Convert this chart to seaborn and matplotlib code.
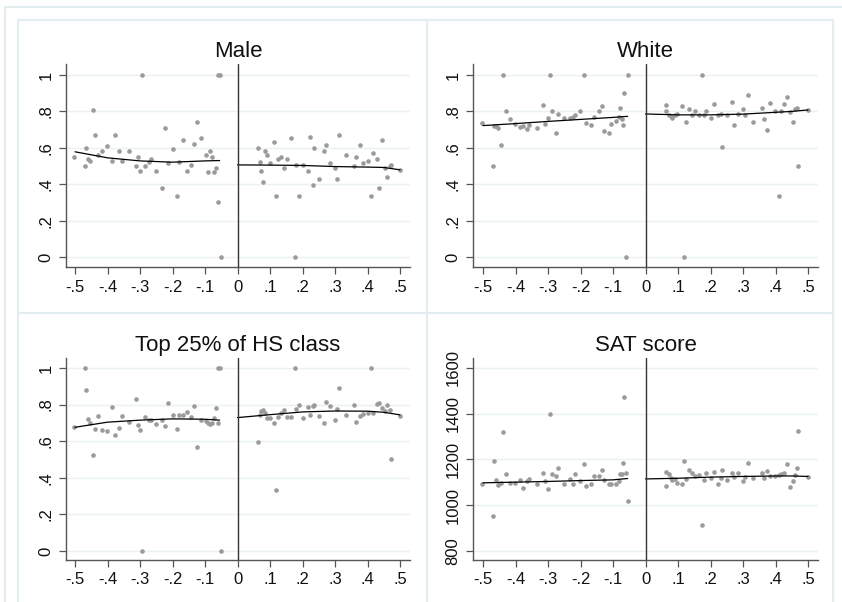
import matplotlib
matplotlib.use("Agg")
import matplotlib.pyplot as plt
from matplotlib.lines import Line2D
import seaborn as sns
import pandas as pd

# ---------------- data ----------------
x_left_a = [-0.503, -0.469, -0.466, -0.461, -0.454, -0.446, -0.438, -0.430, -0.417, -0.402,
            -0.385, -0.377, -0.365, -0.356, -0.335, -0.313, -0.307, -0.300, -0.294, -0.286,
            -0.273, -0.266, -0.250, -0.231, -0.222, -0.215, -0.200, -0.187, -0.181, -0.169,
            -0.155, -0.143, -0.134, -0.124, -0.112, -0.098, -0.091, -0.084, -0.077, -0.071,
            -0.067, -0.061, -0.059, -0.054, -0.052]
x_right_a = [0.062, 0.068, 0.071, 0.078, 0.085, 0.090, 0.100, 0.112, 0.118, 0.125,
             0.135, 0.144, 0.153, 0.166, 0.178, 0.181, 0.188, 0.200, 0.217, 0.222,
             0.231, 0.234, 0.251, 0.265, 0.271, 0.285, 0.300, 0.307, 0.313, 0.333,
             0.357, 0.364, 0.376, 0.386, 0.400, 0.411, 0.418, 0.429, 0.435, 0.446,
             0.454, 0.460, 0.468, 0.471, 0.499]
x_left_b = [-0.502, -0.470, -0.466, -0.460, -0.453, -0.445, -0.439, -0.428, -0.417, -0.401,
            -0.385, -0.378, -0.364, -0.357, -0.335, -0.314, -0.309, -0.300, -0.294, -0.287,
            -0.275, -0.269, -0.250, -0.232, -0.224, -0.217, -0.201, -0.188, -0.183, -0.169,
            -0.157, -0.143, -0.133, -0.128, -0.111, -0.105, -0.092, -0.083, -0.077, -0.071,
            -0.068, -0.065, -0.060, -0.054]
x_right_b = [0.0625, 0.0645, 0.071, 0.078, 0.083, 0.090, 0.098, 0.112, 0.119, 0.124,
             0.134, 0.143, 0.153, 0.165, 0.175, 0.181, 0.186, 0.201, 0.212, 0.222,
             0.231, 0.235, 0.250, 0.265, 0.273, 0.285, 0.300, 0.307, 0.314, 0.332,
             0.357, 0.364, 0.373, 0.382, 0.399, 0.410, 0.416, 0.426, 0.436, 0.446,
             0.455, 0.461, 0.467, 0.470, 0.500]

male_left = [0.55, 0.50, 0.60, 0.536, 0.53, 0.81, 0.67, 0.563, 0.58, 0.609,
             0.53, 0.67, 0.58, 0.53, 0.58, 0.50, 0.55, 0.47, 1.0, 0.50,
             0.52, 0.536, 0.47, 0.38, 0.71, 0.514, 0.596, 0.333, 0.523, 0.642,
             0.47, 0.506, 0.62, 0.742, 0.653, 0.563, 0.468, 0.585, 0.547, 0.468,
             0.49, 0.30, 1.0, 1.0, 0.0]
male_right = [0.601, 0.523, 0.47, 0.411, 0.585, 0.563, 0.514, 0.631, 0.333, 0.539,
              0.552, 0.49, 0.536, 0.653, 0.0, 0.506, 0.333, 0.506, 0.47, 0.658,
              0.395, 0.601, 0.428, 0.585, 0.614, 0.517, 0.49, 0.428, 0.669, 0.558,
              0.50, 0.547, 0.614, 0.514, 0.53, 0.333, 0.569, 0.539, 0.377, 0.642,
              0.49, 0.439, 0.50, 0.506, 0.479]
top_left = [0.676, 1.0, 0.878, 0.722, 0.698, 0.525, 0.665, 0.738, 0.66, 0.655,
            0.789, 0.636, 0.671, 0.738, 0.705, 0.833, 0.687, 0.66, 0.0, 0.733,
            0.716, 0.716, 0.693, 0.716, 0.682, 0.811, 0.744, 0.665, 0.744, 0.744,
            0.76, 0.733, 0.795, 0.571, 0.716, 0.711, 0.698, 0.693, 0.698, 0.727,
            0.784, 0.698, 1.0, 1.0, 0.0]
top_right = [0.598, 0.744, 0.765, 0.771, 0.755, 0.727, 0.727, 0.698, 0.336, 0.733,
             0.755, 0.771, 0.733, 0.733, 1.0, 0.778, 0.80, 0.727, 0.789, 0.744,
             0.795, 0.80, 0.738, 0.698, 0.816, 0.795, 0.716, 0.778, 0.889, 0.744,
             0.80, 0.705, 0.738, 0.749, 0.755, 1.0, 0.755, 0.805, 0.811, 0.784,
             0.765, 0.80, 0.771, 0.504, 0.738]
white_left = [0.737, 0.50, 0.72, 0.72, 0.71, 0.614, 1.0, 0.80, 0.76, 0.73,
              0.715, 0.72, 0.706, 0.726, 0.709, 0.834, 0.731, 0.766, 1.0, 0.80,
              0.682, 0.788, 0.766, 0.766, 0.771, 0.779, 0.80, 1.0, 0.737, 0.726,
              0.771, 0.80, 0.828, 0.693, 0.682, 0.731, 0.748, 0.77, 0.817, 0.757,
              0.726, 0.90, 0.0, 1.0]
white_right = [0.80, 0.834, 0.779, 0.775, 0.766, 0.779, 0.788, 0.828, 0.0, 0.744,
               0.812, 0.779, 0.80, 0.779, 1.0, 0.779, 0.80, 0.766, 0.841, 0.779,
               0.788, 0.603, 0.779, 0.85, 0.726, 0.788, 0.812, 0.779, 0.89, 0.744,
               0.817, 0.76, 0.698, 0.845, 0.80, 0.335, 0.80, 0.841, 0.88, 0.796,
               0.744, 0.812, 0.817, 0.50, 0.808]
sat_left = [1093, 953, 1194, 1110, 1089, 1099, 1321, 1137, 1099, 1099,
            1110, 1074, 1105, 1114, 1095, 1142, 1105, 1069, 1401, 1137,
            1128, 1165, 1095, 1114, 1095, 1137, 1105, 1182, 1086, 1095,
            1128, 1128, 1155, 1110, 1095, 1091, 1095, 1104, 1137, 1137,
            1185, 1472, 1142, 1020]
sat_right = [1083, 1146, 1136, 1118, 1110, 1114, 1099, 1095, 1194, 1114,
             1155, 1142, 1128, 1133, 912, 1110, 1142, 1118, 1146, 1095,
             1118, 1155, 1110, 1142, 1124, 1142, 1105, 1124, 1185, 1118,
             1142, 1118, 1150, 1128, 1128, 1133, 1137, 1142, 1182, 1079,
             1105, 1133, 1165, 1326, 1124]

# fitted lines
fit_x_left = [-0.5, -0.4, -0.3, -0.2, -0.1, -0.055]
fit_x_right = [0.0, 0.1, 0.2, 0.3, 0.4, 0.45, 0.5]
male_fit_left = [0.578, 0.545, 0.528, 0.521, 0.528, 0.530]
male_fit_right = [0.506, 0.505, 0.503, 0.497, 0.494, 0.492, 0.479]
white_fit_left = [0.722, 0.733, 0.745, 0.756, 0.767, 0.773]
white_fit_right = [0.786, 0.781, 0.781, 0.785, 0.795, 0.800, 0.808]
top_fit_left = [0.676, 0.704, 0.715, 0.722, 0.720, 0.715]
top_fit_right = [0.729, 0.745, 0.760, 0.765, 0.764, 0.758, 0.744]
sat_fit_left = [1098, 1101, 1104, 1108, 1111, 1117]
sat_fit_right = [1115, 1118, 1123, 1126, 1128, 1128, 1126]

titles = ["Male", "White", "Top 25% of HS class", "SAT score"]
x_ticks = [-0.5, -0.4, -0.3, -0.2, -0.1, 0.0, 0.1, 0.2, 0.3, 0.4, 0.5]
x_tick_labels = ["-.5", "-.4", "-.3", "-.2", "-.1", "0", ".1", ".2", ".3", ".4", ".5"]
share_ticks = [0, 0.2, 0.4, 0.6, 0.8, 1.0]
share_tick_labels = ["0", ".2", ".4", ".6", ".8", "1"]
sat_ticks = [800, 1000, 1200, 1400, 1600]
sat_tick_labels = ["800", "1000", "1200", "1400", "1600"]

# ---------------- styling ----------------
sns.set_theme(style="ticks")
plt.rcParams["font.family"] = ["Liberation Sans", "DejaVu Sans"]

W, H = 842, 602
fig = plt.figure(figsize=(W / 100, H / 100), dpi=100)
fig.patch.set_facecolor("white")

FRAME = "#e4eef0"
GRID = "#eaf1f3"
AXC = "#555555"
PT = "#9b9b9b"


def fig_line(x1, y1, x2, y2, lw=1.6):
    fig.add_artist(Line2D([x1 / W, x2 / W], [1 - y1 / H, 1 - y2 / H],
                          transform=fig.transFigure, color=FRAME, lw=lw, zorder=0))


# outer frame and panel boxes
fig_line(5, 7, W, 7)
fig_line(5, 7, 5, H)
fig_line(18, 20, 833, 20)
fig_line(18, 313, 833, 313)
fig_line(18, 20, 18, H)
fig_line(427, 20, 427, H)
fig_line(833, 20, 833, H)


def make_axes(l, r, t, b):
    return fig.add_axes([l / W, 1 - b / H, (r - l) / W, (b - t) / H])


panels = [
    # (box px l, r, t, b), (x at px l, px per unit), (y-data a at px, b at px)
    dict(box=(66, 410, 64, 267), x0px=75, y_ref=((1.0, 75), (0.0, 257)),
         xl=x_left_a, yl=male_left, xr=x_right_a, yr=male_right,
         fl=male_fit_left, fr=male_fit_right, ticks=share_ticks, labels=share_tick_labels),
    dict(box=(473, 818, 64, 267), x0px=483, y_ref=((1.0, 75), (0.0, 257)),
         xl=x_left_b, yl=white_left, xr=x_right_b, yr=white_right,
         fl=white_fit_left, fr=white_fit_right, ticks=share_ticks, labels=share_tick_labels),
    dict(box=(66, 410, 358, 560), x0px=75, y_ref=((1.0, 368), (0.0, 551)),
         xl=x_left_a, yl=top_left, xr=x_right_a, yr=top_right,
         fl=top_fit_left, fr=top_fit_right, ticks=share_ticks, labels=share_tick_labels),
    dict(box=(473, 818, 358, 560), x0px=483, y_ref=((1600, 368), (800, 551)),
         xl=x_left_b, yl=sat_left, xr=x_right_b, yr=sat_right,
         fl=sat_fit_left, fr=sat_fit_right, ticks=sat_ticks, labels=sat_tick_labels),
]

for title, p in zip(titles, panels):
    l, r, t, b = p["box"]
    ax = make_axes(l, r, t, b)
    # x limits: -.5 at x0px, 325 px per unit
    ppu = 325.0
    ax.set_xlim(-0.5 - (p["x0px"] - l) / ppu, -0.5 + (r - p["x0px"]) / ppu)
    (ya, pa), (yb, pb) = p["y_ref"]
    ypp = (ya - yb) / (pb - pa)
    ax.set_ylim(yb - (b - pb) * ypp, ya + (pa - t) * ypp)

    ax.yaxis.grid(True, color=GRID, lw=1.0)
    ax.set_axisbelow(True)

    dl = pd.DataFrame({"x": p["xl"], "y": p["yl"]})
    dr = pd.DataFrame({"x": p["xr"], "y": p["yr"]})
    sns.scatterplot(data=dl, x="x", y="y", ax=ax, color=PT, s=11, linewidth=0, zorder=2)
    sns.scatterplot(data=dr, x="x", y="y", ax=ax, color=PT, s=11, linewidth=0, zorder=2)
    fl = pd.DataFrame({"x": fit_x_left, "y": p["fl"]})
    fr = pd.DataFrame({"x": fit_x_right, "y": p["fr"]})
    sns.lineplot(data=fl, x="x", y="y", ax=ax, color="black", lw=0.9, zorder=3)
    sns.lineplot(data=fr, x="x", y="y", ax=ax, color="black", lw=0.9, zorder=3)
    ax.axvline(0, color="#333333", lw=1.0, zorder=3)

    ax.set_xticks(x_ticks)
    ax.set_xticklabels(x_tick_labels)
    ax.set_yticks(p["ticks"])
    ax.set_yticklabels(p["labels"], rotation=90, va="center")
    ax.set_xlabel("")
    ax.set_ylabel("")
    ax.tick_params(axis="both", direction="out", length=5, width=0.9, color=AXC,
                   labelsize=12, labelcolor="#111111")
    ax.tick_params(axis="x", pad=4)
    ax.tick_params(axis="y", pad=4)

    for s in ("top", "right"):
        ax.spines[s].set_visible(False)
    for s in ("left", "bottom"):
        ax.spines[s].set_color(AXC)
        ax.spines[s].set_linewidth(1.0)
    ax.set_facecolor("white")
    ax.set_title(title, fontsize=16, pad=5, color="#111111")

fig.savefig("out.png", dpi=100)
